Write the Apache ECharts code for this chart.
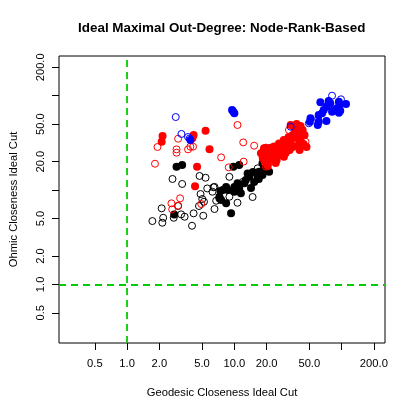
<!DOCTYPE html>
<html><head><meta charset="utf-8">
<script src="https://cdn.jsdelivr.net/npm/echarts@6/dist/echarts.min.js"></script>
<style>html,body{margin:0;padding:0;background:#fff}#c{width:415px;height:415px}</style>
</head><body><div id="c"></div>
<script>
const titleText = 'Ideal Maximal Out-Degree: Node-Rank-Based';
const xName = 'Geodesic Closeness Ideal Cut';
const yName = 'Ohmic Closeness Ideal Cut';
const tickValues = [0.5, 1, 2, 5, 10, 20, 50, 100, 200];
const xLabelValues = [0.5, 1, 2, 5, 10, 20, 50, 200];
const yLabelValues = [0.5, 1, 2, 5, 20, 50, 200];
const refX = 1, refY = 1;

const blackFilled = [[2.89,17.7],[3.26,18.4],[2.75,5.52],[7.26,8.17],[7.53,7.83],[7.41,9.76],[8.38,10.8],[8.69,10.0],[8.38,7.23],[9.32,5.66],[9.79,17.7],[11.1,18.4],[10.0,10.8],[10.7,11.8],[11.1,10.4],[11.5,9.22],[12.8,12.8],[12.4,11.8],[13.3,15.0],[13.8,13.8],[15.3,12.2],[16.5,13.8],[17.0,15.6],[18.3,14.4],[18.3,19.2],[18.9,17.0],[21.1,15.6],[21.4,21.7],[10.0,9.58],[7.81,10.0],[7.26,8.49],[14.3,10.5],[14.9,15.5],[19.7,17.1],[16.9,13.1]];
const blackOpen = [[2.65,13.1],[3.26,11.6],[4.74,14.1],[5.39,13.5],[5.59,10.4],[6.39,10.7],[6.25,9.59],[4.84,9.07],[5.02,8.03],[5.21,7.51],[4.68,6.77],[4.17,5.66],[5.13,5.34],[2.99,6.77],[2.10,6.40],[2.72,5.08],[3.19,5.52],[3.44,5.21],[2.17,5.08],[1.72,4.69],[2.13,4.50],[4.03,4.18],[6.53,6.29],[6.77,7.70],[8.99,13.8],[8.99,8.49],[10.7,7.33],[14.8,8.43],[16.5,17.0],[21.1,19.95],[18.3,24.9],[6.53,10.8],[12.0,12.2]];
const redFilled = [[2.10,32.5],[2.14,37.4],[4.17,38.3],[4.06,35.3],[5.39,42.5],[5.87,27.0],[4.49,17.7],[4.30,11.0],[19.7,28.1],[23.5,28.9],[26.1,31.2],[21.1,22.5],[33.5,48.9],[35.7,46.6],[38.1,50.1],[39.7,45.4],[41.4,47.7],[37.3,42.2],[40.6,40.2],[43.3,43.3],[45.1,38.3],[35.0,38.3],[32.1,36.5],[38.1,35.6],[41.4,33.9],[44.2,30.7],[47.1,28.6],[33.5,33.1],[31.2,31.5],[28.9,33.9],[27.7,30.0],[30.1,27.9],[35.0,28.6],[38.1,29.3],[40.6,26.6],[25.9,26.6],[23.8,25.3],[21.9,28.1],[20.1,25.3],[20.9,20.8],[19.2,19.8],[22.8,22.4],[24.8,20.8],[27.1,23.5],[30.1,24.7],[32.8,26.6],[18.4,21.8],[20.5,18.0],[24.3,19.3],[17.7,24.5],[18.9,27.7],[29.0,22.5]];
const redOpen = [[1.92,28.6],[1.82,19.0],[2.99,35.0],[2.89,27.0],[2.89,24.9],[3.70,27.0],[3.89,28.8],[4.12,28.8],[7.53,22.2],[10.7,48.9],[12.1,32.0],[15.3,29.5],[12.2,20.0],[8.87,17.4],[2.59,7.23],[2.63,6.24],[2.99,6.82],[3.12,8.17],[4.92,7.1],[23.5,24.5],[25.2,23.5],[19.7,17.7],[23.5,27.6],[27.1,28.9],[32.3,43.3],[46.1,32.5],[35.9,31.3]];
const blueFilled = [[63.4,85],[75.8,87.7],[78.5,83],[72.2,76.4],[68.1,70.5],[94.4,86.3],[95.8,79.6],[90.6,73.5],[110,81.6],[81.5,67.6],[84.3,70.5],[97.2,69.3],[94.4,66.1],[65.8,65.1],[61.2,62.4],[51.3,57.6],[50.6,53.0],[61.2,53.0],[59.9,48.9],[72.2,53.9],[9.52,70.5],[10.0,65.1],[9.75,68],[3.89,33.9]];
const blueOpen = [[81.5,100],[98.7,91.6],[49.5,51],[60.4,56.2],[33.5,46.9],[2.84,59.4],[3.21,39.3],[3.70,36.5],[3.83,35.2]];

const FONT = "'Liberation Sans', Arial, Helvetica, sans-serif";
const chart = echarts.init(document.getElementById('c'), null, {renderer: 'canvas'});

function filled(data, color) {
  return {type: 'scatter', data: data, symbol: 'circle', symbolSize: 8, silent: true,
    itemStyle: {color: color, borderWidth: 0, opacity: 1}};
}
function open(data, color) {
  return {type: 'scatter', data: data, symbol: 'circle', symbolSize: 7, silent: true,
    itemStyle: {color: 'rgba(0,0,0,0)', borderColor: color, borderWidth: 1, opacity: 1}};
}
function axisCommon(labelValues, isY) {
  return {
    type: 'log', logBase: 10,
    axisLine: {show: false},
    axisTick: {show: true, inside: false, length: 7, customValues: tickValues, lineStyle: {color: '#000', width: 1}},
    axisLabel: {show: true, customValues: labelValues, color: '#000', fontFamily: FONT, fontSize: 11.2,
      margin: isY ? 13 : 15, rotate: isY ? 90 : 0, formatter: v => Number(v).toFixed(1)},
    splitLine: {show: false}, minorTick: {show: false}, minorSplitLine: {show: false},
    nameLocation: 'middle',
    nameTextStyle: {color: '#000', fontFamily: FONT, fontSize: 11.2}
  };
}

const option = {
  animation: false,
  backgroundColor: '#fff',
  title: {text: titleText, left: 221.7, top: 22, textAlign: 'center', padding: 0,
    textStyle: {fontFamily: FONT, fontSize: 13.4, fontWeight: 'bold', color: '#000'}},
  grid: {left: 56.7, right: 30, top: 56, bottom: 72, show: true, borderColor: '#000', borderWidth: 1, backgroundColor: '#fff', containLabel: false},
  xAxis: Object.assign(axisCommon(xLabelValues, false), {min: 0.2317, max: 254, name: xName, nameGap: 44}),
  yAxis: Object.assign(axisCommon(yLabelValues, true), {min: 0.239, max: 263.6, name: yName, nameGap: 40, nameRotate: 90}),
  series: [
    Object.assign(open([], '#000'), {
      markLine: {silent: true, symbol: 'none', label: {show: false}, animation: false,
        lineStyle: {color: '#00CD00', width: 1.8, type: [7, 5]},
        data: [{xAxis: refX}, {yAxis: refY}]}
    }),
    open(blackOpen, '#000'),
    filled(blackFilled, '#000'),
    open(redOpen, '#FF0000'),
    filled(redFilled, '#FF0000'),
    open(blueOpen, '#0000FF'),
    filled(blueFilled, '#0000FF')
  ]
};
chart.setOption(option);
</script>
</body></html>
